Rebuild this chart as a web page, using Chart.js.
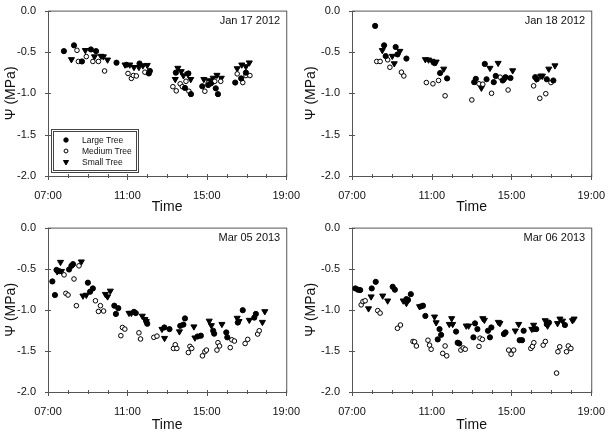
<!DOCTYPE html>
<html lang="en">
<head>
<meta charset="UTF-8">
<title>Leaf water potential</title>
<script src="https://cdn.jsdelivr.net/npm/chart.js"></script>
<style>
  body { margin: 0; background: #fff; }
  #wrap { position: relative; width: 610px; height: 435px; }
  #wrap canvas { position: absolute; }
</style>
</head>
<body>
<div id="wrap">
  <canvas id="c1" width="305" height="217" style="left:0;top:0"></canvas>
  <canvas id="c2" width="310" height="217" style="left:300px;top:0"></canvas>
  <canvas id="c3" width="305" height="218" style="left:0;top:217px"></canvas>
  <canvas id="c4" width="310" height="218" style="left:300px;top:217px"></canvas>
</div>

<script>
// [time of day (h), water potential (MPa)]
const jan17Large = [[7.80,-0.49],[8.31,-0.42],[8.71,-0.615],[9.16,-0.47],[9.42,-0.49],[10.45,-0.63],[10.95,-0.655],[11.61,-0.64],[12.08,-0.76],[12.13,-0.73],[13.44,-0.75],[13.90,-0.935],[14.07,-0.76],[14.20,-1.01],[14.77,-0.915],[15.07,-0.90],[15.20,-0.88],[15.45,-0.94],[15.56,-1.01],[16.43,-0.87],[16.73,-0.82],[16.97,-0.75]];
const jan17Medium = [[8.46,-0.48],[8.53,-0.615],[8.93,-0.556],[9.26,-0.615],[9.54,-0.615],[9.85,-0.73],[11.03,-0.76],[11.20,-0.82],[11.30,-0.785],[11.45,-0.79],[11.88,-0.745],[13.29,-0.92],[13.46,-0.97],[13.66,-0.885],[13.77,-0.92],[13.95,-0.855],[14.10,-0.975],[14.90,-0.975],[15.07,-0.875],[15.27,-0.87],[15.40,-0.855],[15.70,-0.855],[16.53,-0.765],[16.81,-0.87],[16.97,-0.785],[17.17,-0.785]];
const jan17Small = [[8.18,-0.59],[8.88,-0.48],[9.34,-0.556],[9.67,-0.55],[9.79,-0.556],[10.00,-0.595],[10.88,-0.655],[11.12,-0.655],[11.33,-0.685],[11.58,-0.685],[11.78,-0.665],[12.00,-0.66],[13.54,-0.695],[13.71,-0.735],[13.41,-0.83],[13.82,-0.785],[14.04,-0.765],[14.19,-0.83],[14.85,-0.83],[15.10,-0.845],[15.32,-0.815],[15.51,-0.78],[15.73,-0.815],[16.53,-0.70],[16.76,-0.655],[16.97,-0.675],[17.14,-0.63]];

const jan18Large = [[8.16,-0.185],[8.61,-0.42],[8.69,-0.55],[9.19,-0.44],[9.28,-0.53],[9.73,-0.58],[11.14,-0.635],[11.42,-0.755],[11.77,-0.82],[13.13,-0.865],[13.21,-0.825],[13.66,-0.645],[13.75,-0.83],[14.11,-0.865],[14.21,-0.79],[14.56,-0.845],[14.70,-0.805],[14.95,-0.815],[16.19,-0.805],[16.27,-0.83],[16.77,-0.83],[17.10,-0.845]];
const jan18Medium = [[8.24,-0.615],[8.41,-0.615],[8.79,-0.595],[8.90,-0.685],[9.48,-0.745],[9.60,-0.79],[10.73,-0.87],[11.06,-0.885],[11.34,-0.845],[11.67,-1.03],[13.01,-1.08],[13.37,-0.885],[13.56,-0.89],[14.00,-1.00],[14.43,-0.805],[14.83,-0.96],[16.11,-0.91],[16.42,-1.06],[16.72,-1.005],[16.98,-0.87]];
const jan18Small = [[8.52,-0.48],[9.02,-0.55],[9.12,-0.64],[9.40,-0.49],[10.68,-0.59],[10.84,-0.595],[11.01,-0.61],[11.22,-0.62],[11.60,-0.705],[13.49,-0.935],[13.92,-0.695],[14.33,-0.635],[14.70,-0.815],[15.06,-0.725],[16.24,-0.825],[16.47,-0.79],[16.55,-0.79],[16.87,-0.705],[17.18,-0.665]];

const mar05Large = [[7.22,-0.655],[7.35,-0.82],[7.43,-0.515],[7.56,-0.53],[8.06,-0.51],[8.18,-0.465],[8.26,-0.445],[9.01,-0.67],[9.12,-0.78],[9.26,-0.74],[10.34,-0.95],[10.42,-1.05],[10.54,-0.98],[11.33,-1.025],[11.42,-1.04],[11.95,-1.14],[12.00,-1.17],[12.86,-1.215],[13.12,-1.235],[13.66,-1.195],[13.82,-1.18],[13.90,-1.105],[14.53,-1.325],[14.70,-1.315],[15.32,-1.255],[15.37,-1.29],[15.98,-1.275],[16.03,-1.335],[16.56,-1.155],[16.81,-1.005],[17.39,-1.095],[17.47,-1.05]];
const mar05Medium = [[7.81,-0.575],[7.90,-0.80],[8.01,-0.82],[8.31,-0.625],[8.43,-0.95],[8.56,-0.465],[9.39,-0.89],[9.54,-1.02],[9.64,-0.95],[9.80,-1.015],[10.67,-1.315],[10.75,-1.215],[10.87,-1.235],[11.58,-1.28],[11.66,-1.355],[12.33,-1.335],[12.49,-1.32],[13.32,-1.47],[13.41,-1.425],[13.49,-1.47],[14.07,-1.52],[14.15,-1.445],[14.24,-1.47],[14.78,-1.56],[14.90,-1.51],[14.98,-1.49],[15.51,-1.49],[15.56,-1.40],[15.64,-1.44],[16.18,-1.46],[16.26,-1.365],[16.39,-1.38],[16.93,-1.41],[17.06,-1.36],[17.56,-1.295],[17.64,-1.255]];
const mar05Small = [[7.46,-0.535],[7.63,-0.42],[7.68,-0.53],[8.68,-0.415],[8.76,-0.83],[8.93,-0.82],[9.89,-0.81],[10.00,-0.84],[10.14,-0.77],[11.08,-1.04],[11.20,-1.04],[11.75,-1.075],[11.88,-1.115],[11.95,-1.14],[12.74,-1.235],[12.87,-1.345],[13.62,-1.265],[14.35,-1.205],[14.40,-1.34],[15.12,-1.135],[15.23,-1.19],[15.76,-1.175],[16.53,-1.10],[16.62,-1.14],[17.14,-1.125],[17.80,-1.15],[17.92,-1.02]];

const mar06Large = [[7.17,-0.74],[7.30,-0.755],[7.41,-0.76],[7.99,-0.74],[8.19,-0.66],[9.04,-0.72],[9.15,-0.755],[9.73,-0.87],[9.81,-0.88],[9.95,-0.81],[10.44,-0.96],[10.56,-0.95],[10.68,-1.075],[11.30,-1.36],[11.39,-1.235],[11.47,-1.305],[12.22,-1.265],[12.30,-1.40],[12.38,-1.41],[13.09,-1.335],[13.17,-1.165],[13.29,-1.235],[13.82,-1.255],[13.92,-1.335],[13.99,-1.215],[14.62,-1.295],[14.70,-1.275],[15.41,-1.37],[15.53,-1.37],[15.61,-1.255],[16.11,-1.235],[16.24,-1.235],[16.77,-1.175],[16.88,-1.155],[17.68,-1.185]];
const mar06Medium = [[7.46,-0.94],[7.55,-0.90],[7.66,-0.89],[8.29,-1.01],[8.41,-1.04],[9.28,-1.225],[9.43,-1.185],[10.06,-1.385],[10.14,-1.39],[10.23,-1.44],[10.81,-1.37],[10.89,-1.43],[10.97,-1.48],[11.55,-1.53],[11.67,-1.44],[11.75,-1.56],[12.46,-1.49],[12.58,-1.465],[12.68,-1.48],[13.37,-1.445],[13.42,-1.345],[13.54,-1.36],[14.86,-1.49],[14.98,-1.54],[15.11,-1.49],[15.97,-1.47],[16.05,-1.445],[16.12,-1.40],[16.59,-1.43],[16.70,-1.385],[17.26,-1.77],[17.33,-1.51],[17.42,-1.45],[17.76,-1.51],[17.85,-1.44],[17.98,-1.47]];
const mar06Small = [[7.83,-0.985],[7.96,-0.84],[8.54,-0.83],[8.79,-0.89],[9.57,-0.89],[9.73,-0.92],[10.39,-0.96],[11.14,-1.085],[11.22,-1.155],[11.88,-1.175],[12.00,-1.105],[12.05,-1.175],[12.73,-1.195],[12.85,-1.195],[13.56,-1.105],[13.64,-1.125],[14.34,-1.15],[14.42,-1.165],[15.19,-1.255],[15.36,-1.175],[16.02,-1.235],[16.11,-1.185],[16.69,-1.13],[16.81,-1.195],[17.31,-1.165],[17.43,-1.11],[17.56,-1.135],[18.06,-1.13],[18.14,-1.11]];

const seriesNames = ['Large Tree', 'Medium Tree', 'Small Tree'];
const panelDates = ['Jan 17 2012', 'Jan 18 2012', 'Mar 05 2013', 'Mar 06 2013'];
const hourTicks = [7, 11, 15, 19];
const psiTicks = [0, -0.5, -1.0, -1.5, -2.0];

const FONT = 'Arial, "Liberation Sans", Helvetica, sans-serif';
Chart.defaults.font.family = FONT;
Chart.defaults.color = '#111';

const styles = [
  { pointStyle: 'circle', radius: 2.6, backgroundColor: '#000', borderColor: '#000', borderWidth: 1, rotation: 0 },
  { pointStyle: 'circle', radius: 2.3, backgroundColor: '#fff', borderColor: '#000', borderWidth: 1, rotation: 0 },
  { pointStyle: 'triangle', radius: 3.5, backgroundColor: '#000', borderColor: '#000', borderWidth: 1, rotation: 180 }
];

// box around the plot plus tick marks, date label and legend
const framePlugin = {
  id: 'frame',
  beforeDatasetsDraw(chart) {
    const { ctx, chartArea: a, scales: { x, y } } = chart;
    ctx.save();
    ctx.strokeStyle = '#555';
    ctx.lineWidth = 1;
    ctx.strokeRect(a.left + 0.5, a.top + 0.5, a.right - a.left, a.bottom - a.top);
    ctx.beginPath();
    for (let h = 7; h <= 19; h++) {
      const px = Math.round(x.getPixelForValue(h)) + 0.5;
      const major = hourTicks.includes(h);
      ctx.moveTo(px, a.bottom - 2);
      ctx.lineTo(px, a.bottom + (major ? 4 : 2));
    }
    psiTicks.forEach(v => {
      const py = Math.round(y.getPixelForValue(v)) + 0.5;
      ctx.moveTo(a.left - 3, py);
      ctx.lineTo(a.left + 3, py);
    });
    ctx.stroke();
    ctx.restore();
  },
  afterDraw(chart, args, opts) {
    const { ctx, chartArea: a } = chart;
    ctx.save();
    ctx.fillStyle = '#111';
    ctx.font = '11px ' + FONT;
    ctx.textAlign = 'right';
    ctx.textBaseline = 'middle';
    ctx.fillText(opts.date, a.right - 6, a.top + 10);

    if (opts.legend) {
      const bx = a.left + 3, by = a.bottom - 47, bw = 87, bh = 43;
      ctx.strokeStyle = '#444';
      ctx.lineWidth = 1;
      ctx.strokeRect(bx + 0.5, by + 0.5, bw, bh);
      ctx.strokeRect(bx + 2.5, by + 2.5, bw - 4, bh - 4);
      ctx.font = '8.5px ' + FONT;
      ctx.textAlign = 'left';
      chart.data.datasets.forEach((ds, i) => {
        const cy = by + 11 + i * 11;
        const s = styles[i];
        ctx.fillStyle = s.backgroundColor;
        ctx.strokeStyle = s.borderColor;
        Chart.helpers.drawPoint(ctx, { pointStyle: s.pointStyle, radius: s.radius * 0.85, rotation: s.rotation, borderWidth: 1 }, bx + 15, cy);
        ctx.fillStyle = '#111';
        ctx.fillText(ds.label, bx + 31, cy + 0.5);
      });
    }
    ctx.restore();
  }
};

function makePanel(id, date, series, box, legend) {
  const canvas = document.getElementById(id);
  const W = canvas.width, H = canvas.height;
  return new Chart(canvas, {
    type: 'scatter',
    data: {
      datasets: series.map((pts, i) => ({
        label: seriesNames[i],
        data: pts.map(p => ({ x: p[0], y: p[1] })),
        pointStyle: styles[i].pointStyle,
        pointRadius: styles[i].radius,
        pointRotation: styles[i].rotation,
        pointBackgroundColor: styles[i].backgroundColor,
        pointBorderColor: styles[i].borderColor,
        pointBorderWidth: styles[i].borderWidth
      }))
    },
    options: {
      responsive: false,
      animation: false,
      devicePixelRatio: 1,
      layout: { padding: { left: 0, top: box.top, right: W - box.right, bottom: 0 } },
      plugins: {
        legend: { display: false },
        tooltip: { enabled: false },
        frame: { date: date, legend: legend }
      },
      scales: {
        x: {
          type: 'linear',
          min: 7, max: 19,
          grid: { display: false },
          border: { display: false },
          afterFit: s => { s.height = H - box.bottom; },
          ticks: {
            stepSize: 4,
            padding: 5,
            font: { size: 11 },
            maxRotation: 0,
            callback: v => String(v).padStart(2, '0') + ':00'
          },
          title: { display: true, text: 'Time', font: { size: 14 }, padding: { top: 0, bottom: 1 } }
        },
        y: {
          min: -2, max: 0,
          grid: { display: false },
          border: { display: false },
          afterFit: s => { s.width = box.left; },
          ticks: {
            stepSize: 0.5,
            padding: 4,
            font: { size: 11 },
            callback: v => v.toFixed(1)
          },
          title: { display: true, text: 'Ψ (MPa)', font: { size: 14 }, padding: { top: 3, bottom: 0 } }
        }
      }
    },
    plugins: [framePlugin]
  });
}

makePanel('c1', panelDates[0], [jan17Large, jan17Medium, jan17Small], { left: 48, right: 289, top: 7, bottom: 176 }, true);
makePanel('c2', panelDates[1], [jan18Large, jan18Medium, jan18Small], { left: 52, right: 295, top: 7, bottom: 176 }, false);
makePanel('c3', panelDates[2], [mar05Large, mar05Medium, mar05Small], { left: 48, right: 289, top: 7, bottom: 175 }, false);
makePanel('c4', panelDates[3], [mar06Large, mar06Medium, mar06Small], { left: 52, right: 295, top: 7, bottom: 175 }, false);
</script>
</body>
</html>
